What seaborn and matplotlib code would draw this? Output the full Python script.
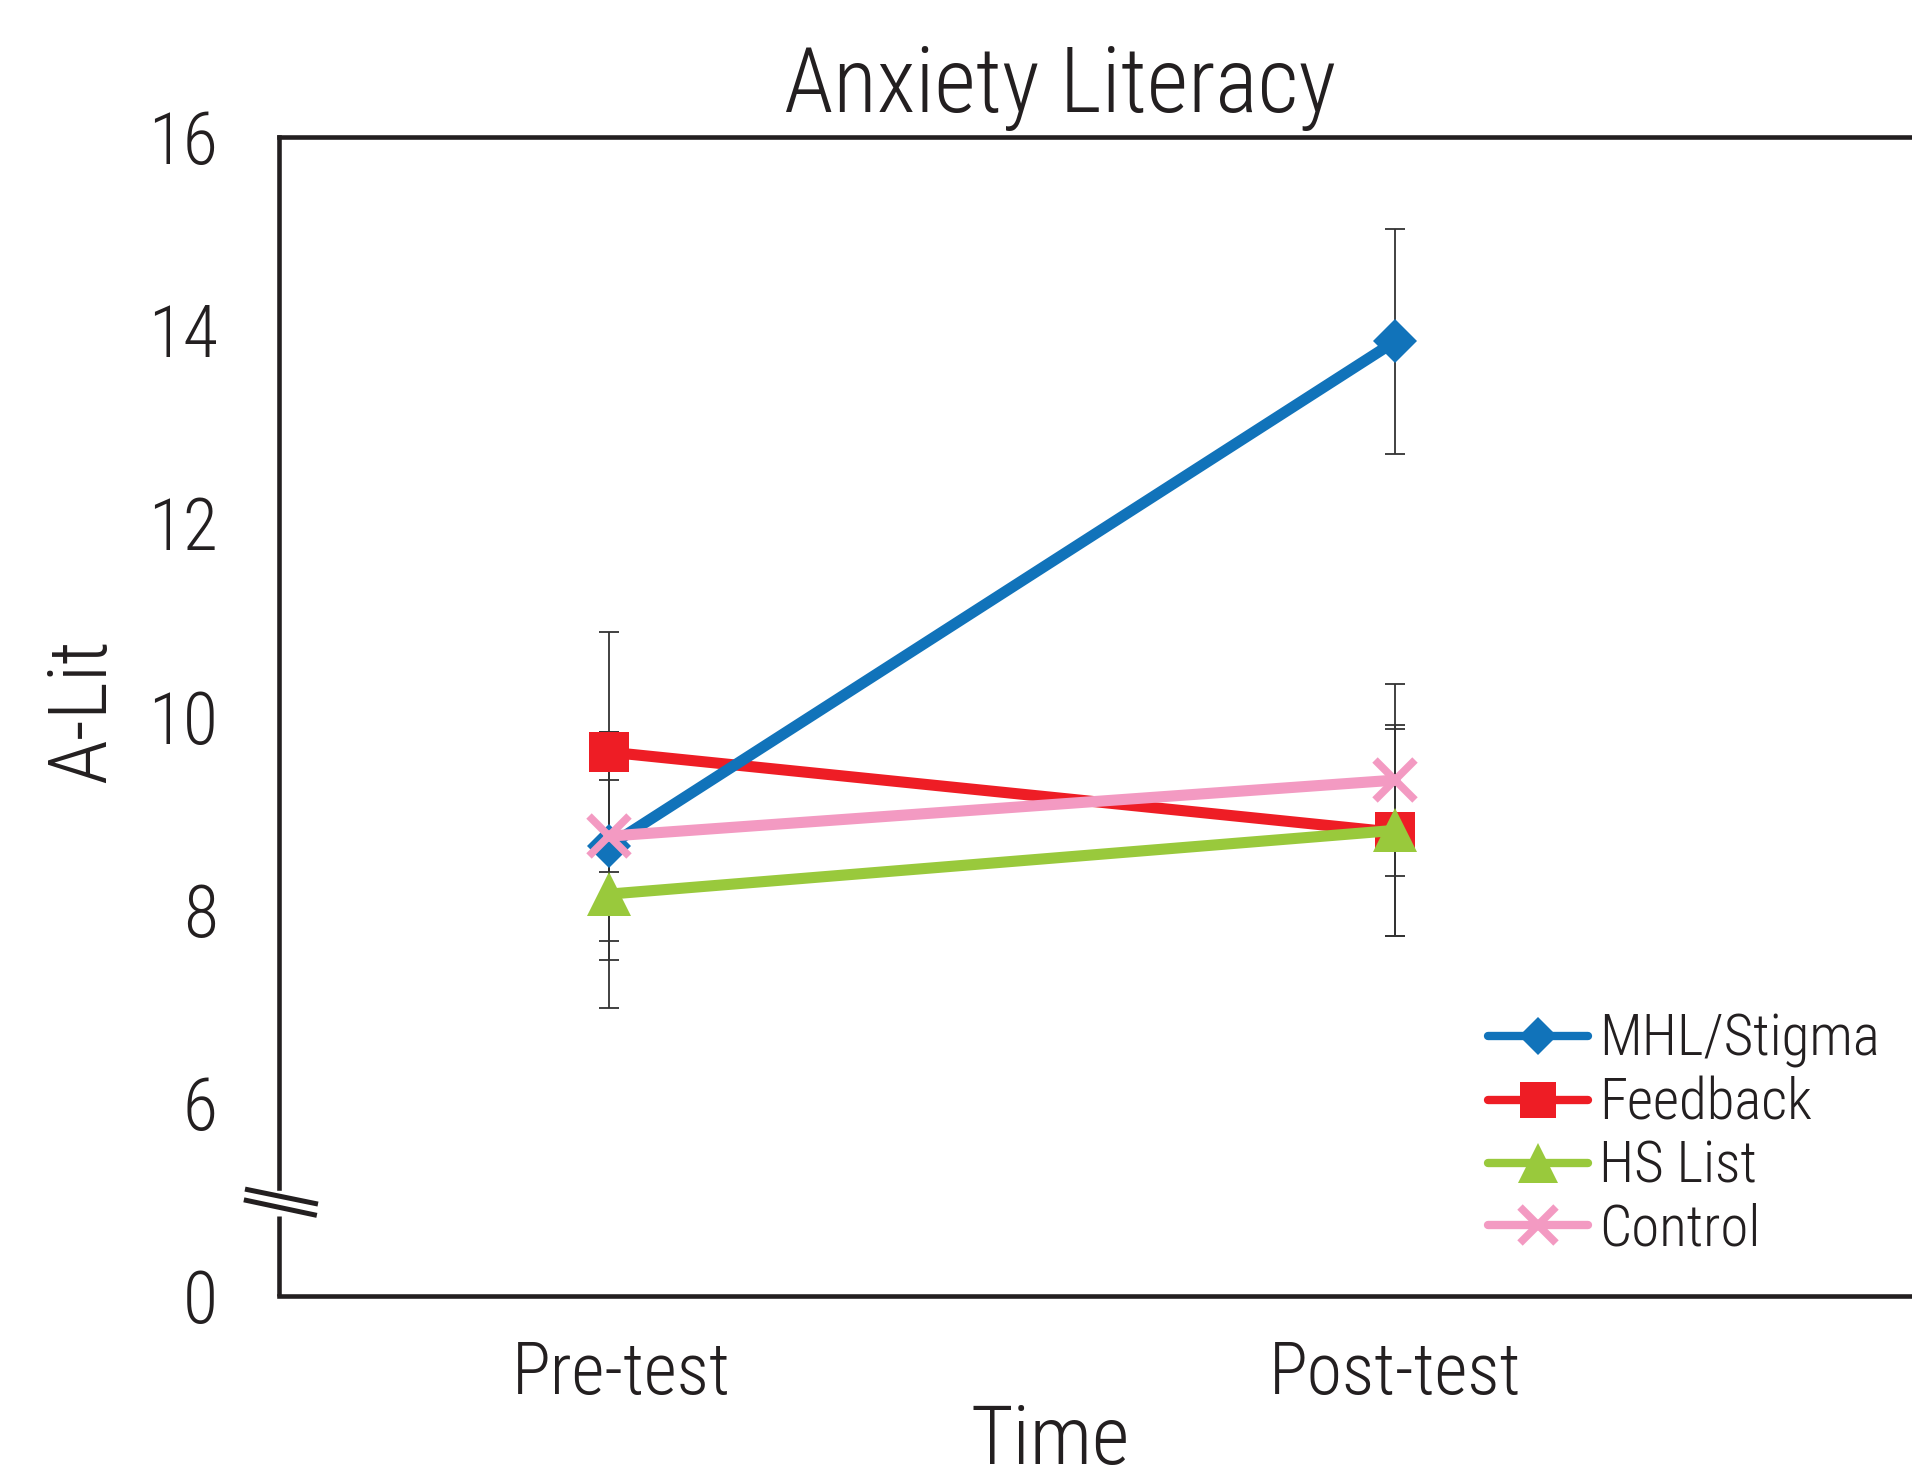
import numpy as np
import pandas as pd
import matplotlib
matplotlib.use("Agg")
import matplotlib.pyplot as plt
from matplotlib import font_manager
from matplotlib.font_manager import FontProperties
from matplotlib.textpath import TextPath
import seaborn as sns

# ---- data ----
times = ["Pre-test", "Post-test"]
groups = ["MHL/Stigma", "Feedback", "HS List", "Control"]
mhl_mean = [8.66, 13.88]
mhl_err = [1.18, 1.16]
feedback_mean = [9.63, 8.80]
feedback_err = [1.24, 1.07]
hslist_mean = [8.16, 8.82]
hslist_err = [1.18, 1.09]
control_mean = [8.76, 9.34]
control_err = [1.08, 0.99]
y_ticks = [4, 6, 8, 10, 12, 14, 16]
y_tick_labels = ["0", "6", "8", "10", "12", "14", "16"]

means = [mhl_mean, feedback_mean, hslist_mean, control_mean]
errs = [mhl_err, feedback_err, hslist_err, control_err]

colors = {"MHL/Stigma": "#1173BA", "Feedback": "#EE1D25",
          "HS List": "#99C93C", "Control": "#F39AC2"}
markers = {"MHL/Stigma": "D", "Feedback": "s", "HS List": "^", "Control": "x"}
msizes = {"MHL/Stigma": 22, "Feedback": 29, "HS List": 32, "Control": 29}
zorders = {"Feedback": 3, "MHL/Stigma": 4, "HS List": 5, "Control": 6}

rows = []
for g, m, e in zip(groups, means, errs):
    for t, v, ev in zip(times, m, e):
        rows.append({"Time": t, "Group": g, "A-Lit": v, "err": ev})
df = pd.DataFrame(rows)

sns.set_style("white")
fonts = font_manager.fontManager.ttflist
available = {f.name for f in fonts}
family = "DejaVu Sans"
for cand in ["Liberation Sans Narrow", "Roboto Condensed", "Open Sans Condensed",
             "Lato", "Liberation Sans"]:
    if cand in available:
        family = cand
        break
weights = {f.weight for f in fonts if f.name == family}
weight = "normal"
if any(w in (300, "light") for w in weights):
    weight = "light"
plt.rcParams["font.family"] = [family, "DejaVu Sans"]
plt.rcParams["font.weight"] = weight
plt.rcParams["axes.labelweight"] = weight
plt.rcParams["axes.titleweight"] = weight
ink = "#231F20"
DPI = 100


def fit_size(text, target_px, max_cap_px=None):
    prop = FontProperties(family=family, weight=weight)
    w = TextPath((0, 0), text, size=100, prop=prop).get_extents().width
    w_px = w * DPI / 72.0
    size = 100.0 * target_px / w_px
    if max_cap_px is not None:
        cap = TextPath((0, 0), "H", size=100, prop=prop).get_extents().height
        size = min(size, 100.0 * max_cap_px / (cap * DPI / 72.0))
    return size


title_fs = fit_size("Anxiety Literacy", 570, 64)
tick_fs = fit_size("Pre-test", 210, 52)
label_fs = fit_size("Time", 162, 58)
legend_fs = fit_size("MHL/Stigma", 272, 44)

fig = plt.figure(figsize=(19.12, 14.79), dpi=DPI)
ax = fig.add_axes([0.1459, 0.1237, 0.8541, 0.7839])

handles = {}
for g in groups:
    sub = df[df["Group"] == g]
    xpos = np.arange(len(sub))
    ax.errorbar(xpos, sub["A-Lit"], yerr=sub["err"], fmt="none",
                ecolor="#333333", elinewidth=1.3, capsize=7, capthick=1.3,
                zorder=1)
    kw = dict(markeredgewidth=0, markeredgecolor=colors[g])
    if markers[g] == "x":
        kw = dict(markeredgewidth=5.5, markeredgecolor=colors[g])
    sns.lineplot(x=xpos, y=sub["A-Lit"].values, color=colors[g],
                 marker=markers[g], markersize=msizes[g], linewidth=8,
                 sort=False, label=g, ax=ax, zorder=zorders[g], **kw)
    handles[g] = ax.lines[-1]

ax.set_xlim(-0.42, 1.658)
ax.set_ylim(4, 16)
ax.set_xticks([0.016, 1.0])
ax.set_xticklabels(times)
ax.set_yticks(y_ticks)
ax.set_yticklabels(y_tick_labels)
ax.tick_params(axis="both", direction="out", length=28, width=3.3,
               color=ink, labelcolor=ink, labelsize=tick_fs)
ax.tick_params(axis="y", pad=16)
ax.tick_params(axis="x", pad=3)

for s in ["top", "left", "bottom"]:
    ax.spines[s].set_linewidth(3.3)
    ax.spines[s].set_color(ink)
ax.spines["right"].set_visible(False)
ax.spines["left"].set_bounds(5.12, 16)

# axis break
ytr = ax.get_yaxis_transform()
ax.plot([0, 0], [4, 4.83], transform=ytr, color=ink, lw=3.3,
        clip_on=False, solid_capstyle="butt", zorder=10)
ax.plot([-0.0208, 0.0239], [5.107, 4.952], transform=ytr, color=ink,
        lw=3.6, clip_on=False, solid_capstyle="butt", zorder=10)
ax.plot([-0.0215, 0.0232], [4.996, 4.835], transform=ytr, color=ink,
        lw=3.6, clip_on=False, solid_capstyle="butt", zorder=10)

ax.set_xlabel("Time", fontsize=label_fs, color=ink, fontweight=weight)
ax.xaxis.set_label_coords(1050 / 1912, 1 - 1464 / 1479, transform=fig.transFigure)
ax.xaxis.label.set_va("baseline")
ax.set_ylabel("A-Lit", fontsize=label_fs, color=ink, fontweight=weight)
ax.yaxis.set_label_coords(83 / 1912, 1 - 711 / 1479, transform=fig.transFigure)
ax.yaxis.label.set_va("center")

fig.text(1060 / 1912, 1 - 112 / 1479, "Anxiety Literacy", ha="center",
         va="baseline", fontsize=title_fs, color=ink, fontweight=weight)

leg = ax.legend([handles[g] for g in groups], groups, loc="upper left",
                bbox_to_anchor=(1488 / 1912, 1 - 1013 / 1479),
                bbox_transform=fig.transFigure, frameon=False,
                fontsize=legend_fs, handlelength=1.75, handletextpad=0.2,
                labelspacing=0.14, borderpad=0, borderaxespad=0,
                markerscale=0.9)
for t in leg.get_texts():
    t.set_color(ink)
for ln in leg.get_lines():
    ln.set_linewidth(6)

fig.savefig("out.png", dpi=DPI)
